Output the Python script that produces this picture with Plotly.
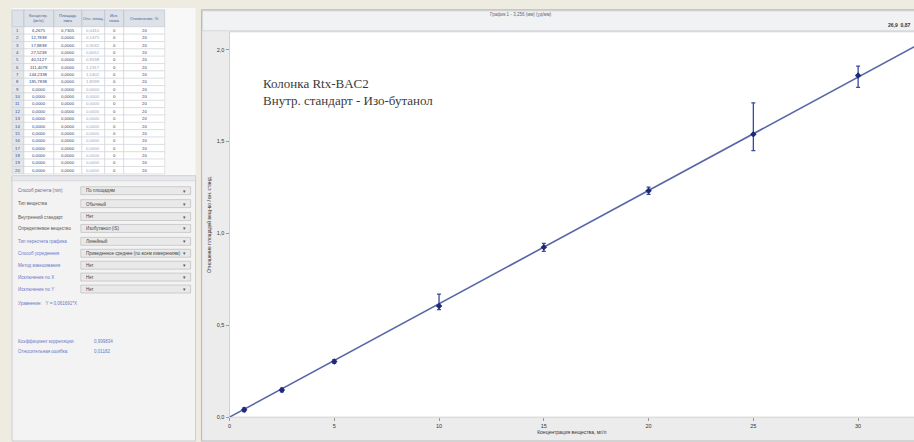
import numpy as np
import plotly.graph_objects as go

W, H = 914, 442

# ---- calibration data (concentration vs. area ratio) ----
conc = [0.7, 2.5, 5, 10, 15, 20, 25, 30]
ratio = [0.040, 0.148, 0.303, 0.605, 0.924, 1.232, 1.540, 1.860]
err_plus = [0.010, 0.010, 0.010, 0.065, 0.022, 0.020, 0.170, 0.050]
err_minus = [0.010, 0.010, 0.010, 0.020, 0.022, 0.020, 0.090, 0.065]

x_ticks = [0, 5, 10, 15, 20, 25, 30]
x_tick_text = ["0", "5", "10", "15", "20", "25", "30"]
y_ticks = [0.0, 0.5, 1.0, 1.5, 2.0]
y_tick_text = ["0,0", "0,5", "1,0", "1,5", "2,0"]

# ---- side table ----
tbl_header = ["", "Концентр.<br>(мг/л)", "Площадь<br>пика", "Отн. площ.", "Исп.<br>точка", "Отклонение, %"]
tbl_num = [str(i) for i in range(1, 21)]
tbl_conc = ["6,2675", "12,7838", "17,8838", "27,5238", "40,5127", "111,4078", "144,2338", "185,7838"] + ["0,0000"] * 12
tbl_area = ["0,7305", "0,0000", "0,0000", "0,0000", "0,0000", "0,0000", "0,0000", "0,0000"] + ["0,0000"] * 12
tbl_rel = ["0,0410", "0,1475", "0,3032", "0,6051", "0,9238", "1,2317", "1,5402", "1,8599"] + ["0,0000"] * 12
tbl_use = ["0"] * 20
tbl_dev = ["20"] * 20

form_labels = ["Способ расчета (тип)", "Тип вещества", "Внутренний стандарт", "Определяемое вещество",
               "Тип пересчета графика", "Способ усреднения", "Метод взвешивания",
               "Исключение по X", "Исключение по Y"]
form_values = ["По площадям", "Обычный", "Нет", "Изобутанол (IS)", "Линейный",
               "Приведенное среднее (по всем измерениям)", "Нет", "Нет", "Нет"]
form_label_colors = ["#6a6a8a", "#555", "#555", "#555", "#6a78c8", "#6a78c8", "#6a78c8", "#6a78c8", "#6a78c8"]

# least-squares line through the origin
cx = np.array(conc)
cy = np.array(ratio)
k = float((cx * cy).sum() / (cx * cx).sum())
fit_x = [0.0, 33.0]
fit_y = [k * v for v in fit_x]


def px(x):
    return x / W


def py(y):
    return 1 - y / H


fig = go.Figure()

# fitted line
fig.add_trace(go.Scatter(x=fit_x, y=fit_y, mode="lines",
                         line=dict(color="#5866a8", width=1.6), showlegend=False,
                         hoverinfo="skip"))
# points with error bars
fig.add_trace(go.Scatter(x=conc, y=ratio, mode="markers",
                         marker=dict(symbol="diamond", size=5, color="#1e2a78"),
                         error_y=dict(type="data", symmetric=False, array=err_plus,
                                      arrayminus=err_minus, color="#3a48a0",
                                      thickness=1.3, width=2),
                         showlegend=False))

shapes = []
ann = []


def rect(x0, y0, x1, y1, fill, line_color=None, lw=0.0):
    shapes.append(dict(type="rect", xref="paper", yref="paper", x0=px(x0), x1=px(x1),
                       y0=py(y1), y1=py(y0), fillcolor=fill, layer="below",
                       line=dict(color=line_color or fill, width=lw)))


def label(x, y, text, size=4.5, color="#444", anchor="left", family="Arial"):
    ann.append(dict(x=px(x), y=py(y), xref="paper", yref="paper", text=text, showarrow=False,
                    xanchor=anchor, yanchor="middle", font=dict(size=size, color=color, family=family)))


# ---- side table drawn as a grid ----
col_edges = [10, 22, 52, 80, 103, 122, 163]
head_top, head_bot = 10, 27
row_h = 7.4
rect(10, 8, 194, 178, "#f8f8f8")
for i in range(len(col_edges) - 1):
    x0, x1 = col_edges[i], col_edges[i + 1]
    rect(x0, head_top, x1, head_bot, "#dde1e8", "#b8bcc6", 0.6)
    ann.append(dict(x=px((x0 + x1) / 2), y=py((head_top + head_bot) / 2), xref="paper", yref="paper",
                    text=tbl_header[i], showarrow=False, xanchor="center", yanchor="middle",
                    font=dict(size=4, color="#4a5a90", family="Arial")))
columns = [tbl_num, tbl_conc, tbl_area, tbl_rel, tbl_use, tbl_dev]
col_colors = ["#3a4a7a", "#2c3c70", "#2c3c70", "#9aa0b8", "#2c3c70", "#2c3c70"]
for r in range(20):
    y0 = head_bot + r * row_h
    y1 = y0 + row_h
    for i in range(len(col_edges) - 1):
        x0, x1 = col_edges[i], col_edges[i + 1]
        rect(x0, y0, x1, y1, "#e4e6ea" if i == 0 else "white", "#c8ccd4", 0.5)
        ann.append(dict(x=px((x0 + x1) / 2), y=py((y0 + y1) / 2), xref="paper", yref="paper",
                        text=columns[i][r], showarrow=False, xanchor="center", yanchor="middle",
                        font=dict(size=4.3, color=col_colors[i], family="Arial")))

# ---- settings form ----
rect(10, 177, 194, 444, "#f3f3f3", "#c9cdd4", 1)
rect(10, 177, 194, 182, "#e6e8ec", "#c9cdd4", 0.6)
row_y = [192, 205, 218, 230, 243, 255, 267, 279, 291]
for lab, val, col, yy in zip(form_labels, form_values, form_label_colors, row_y):
    label(14, yy, lab, color=col)
    rect(79, yy - 4, 189, yy + 4, "#e9e9e9", "#b5b5b5", 0.6)
    label(82, yy, val)
    label(186, yy, "▾", size=5, color="#555", anchor="right")

label(14, 306, "Уравнение:   Y = " + f"{k:.6f}".replace(".", ",") + "*X", color="#6a78c8")
label(14, 344, "Коэффициент корреляции:", color="#6a78c8")
label(90, 344, "0,999834", color="#6a78c8")
label(14, 354, "Относительная ошибка:", color="#6a78c8")
label(90, 354, "0,01182", color="#6a78c8")

# ---- chart window frame ----
rect(200, 10, 916, 444, "#ececec", "#b9bcc2", 1.2)
rect(201, 11, 916, 31, "#f1f2f4", "#c8cbd0", 0.6)
rect(228, 32, 916, 420, "white", "#c8c8c8", 0.8)

label(520, 15, "График 1 - 3,256 (мм) (уд/мм)", color="#666", anchor="center")
label(912, 25, "<b>26,9  0,87</b>", size=5, color="#333", anchor="right")

# column / standard caption inside the plot
ann.append(dict(x=px(260), y=py(93), xref="paper", yref="paper",
                text="Колонка Rtx-BAC2<br>Внутр. стандарт - Изо-бутанол", showarrow=False,
                xanchor="left", yanchor="middle", align="left",
                font=dict(size=13, color="#3a3a3a", family="Liberation Serif")))

fig.update_layout(
    width=W, height=H,
    margin=dict(l=0, r=0, t=0, b=0),
    paper_bgcolor="#eeebe1",
    plot_bgcolor="rgba(0,0,0,0)",
    shapes=shapes,
    annotations=ann,
    xaxis=dict(domain=[px(228), px(914)], range=[0, (914 - 228) / 21.0],
               tickvals=x_ticks, ticktext=x_tick_text, showgrid=False, zeroline=False,
               ticks="outside", ticklen=3, tickcolor="#999",
               tickfont=dict(size=5.5, color="#333", family="Arial Black, Arial"),
               title=dict(text="Концентрация вещества, мг/л", standoff=2,
                          font=dict(size=5, color="#333", family="Arial"))),
    yaxis=dict(domain=[py(420), py(32)], range=[0, (420 - 32) / 185.0],
               tickvals=y_ticks, ticktext=y_tick_text, showgrid=False, zeroline=False,
               ticks="outside", ticklen=3, tickcolor="#999",
               tickfont=dict(size=5.5, color="#333", family="Arial Black, Arial"),
               title=dict(text="Отношение площадей вещ-во / вн. станд.", standoff=4,
                          font=dict(size=5, color="#333", family="Arial"))),
)

fig.write_html("out.html")
